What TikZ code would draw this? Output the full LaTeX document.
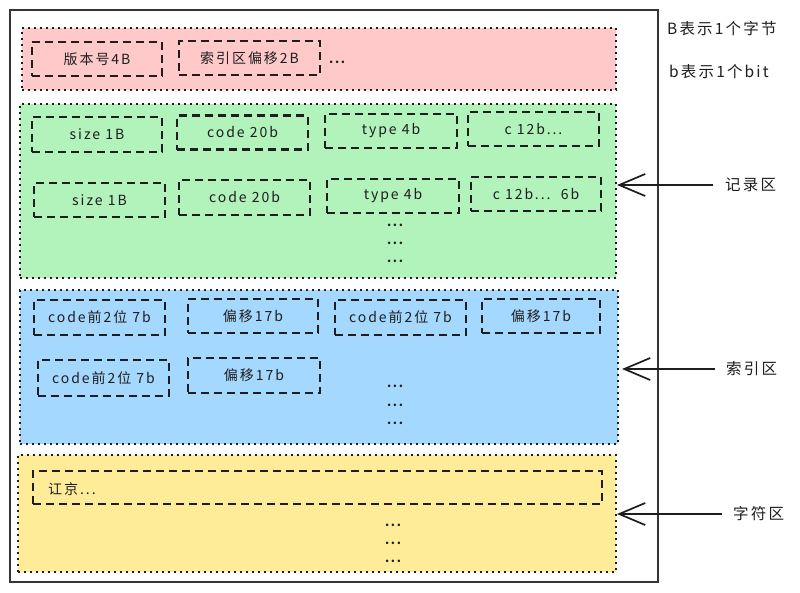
\documentclass[tikz,border=0pt]{standalone}
\usepackage{fontspec}
\usetikzlibrary{arrows.meta}
\newfontfamily\hand[LetterSpace=14]{Noto Sans CJK SC}
\definecolor{pinkc}{HTML}{FFC9C9}
\definecolor{greenc}{HTML}{B2F2BB}
\definecolor{bluec}{HTML}{A5D8FF}
\definecolor{yellowc}{HTML}{FFEC99}
\definecolor{inkc}{HTML}{1E1E1E}
\tikzset{
  region/.style={draw=inkc, line width=2pt, dash pattern=on 2pt off 4pt, rectangle, inner sep=0pt},
  fieldbox/.style={draw=inkc, line width=2.2pt, dash pattern=on 8pt off 5pt, rectangle, inner sep=0pt,
    minimum width=131pt, minimum height=34pt, text=inkc, font=\hand\fontsize{14}{16}\selectfont},
  txt/.style={text=inkc, inner sep=0pt, font=\hand\fontsize{14}{16}\selectfont},
  labtxt/.style={text=inkc, inner sep=0pt, font=\hand\fontsize{15.5}{18}\selectfont},
  dotstxt/.style={text=inkc, inner sep=0pt, font=\hand\bfseries\fontsize{12}{14}\selectfont},
  arr/.style={draw=inkc, line width=1.7pt, -{Straight Barb[length=26pt,width=22pt,line width=1.7pt]}},
}
\begin{document}
\begin{tikzpicture}[x=1pt,y=-1pt]
\useasboundingbox (0,0) rectangle (800,592);
\fill[white] (0,0) rectangle (800,592);
% outer frame
\node[draw=inkc!90, line width=2.2pt, minimum width=648pt, minimum height=572pt, inner sep=0pt] (outer) at (334,296) {};
% regions
\node[region, fill=pinkc, minimum width=594pt, minimum height=62pt] (pink) at (319,59) {};
\node[region, fill=greenc, minimum width=596pt, minimum height=174pt] (green) at (318,191) {};
\node[region, fill=bluec, minimum width=598pt, minimum height=154pt] (blue) at (319,367) {};
\node[region, fill=yellowc, minimum width=598pt, minimum height=117pt] (yellow) at (317,513.5) {};
% pink fields
\node[fieldbox, minimum width=130pt] (p1) at (97,59) {版本号4B};
\node[fieldbox, minimum width=141pt] (p2) at (249.5,58) {索引区偏移2B};
\node[dotstxt, anchor=west] (pdots) at (329,62) {...};
% green fields row 1
\node[fieldbox, minimum width=130pt, minimum height=35pt] (g11) at (97,134.5) {size 1B};
\node[fieldbox] (g12) at (242.5,132.5) {code 20b};
\node[fieldbox, minimum width=132pt] (g13) at (391,131) {type 4b};
\node[fieldbox] (g14) at (533.5,129) {c 12b...};
% green fields row 2
\node[fieldbox] (g21) at (99.5,200) {size 1B};
\node[fieldbox, minimum height=35pt] (g22) at (244.5,197.5) {code 20b};
\node[fieldbox, minimum width=132pt] (g23) at (393,196) {type 4b};
\node[fieldbox, minimum width=130pt] (g24) at (536,194) {c 12b...\ \ 6b};
\node[dotstxt] (gd1) at (395,225) {...};
\node[dotstxt] (gd2) at (395,243) {...};
\node[dotstxt] (gd3) at (395,261) {...};
% blue fields
\node[fieldbox, minimum height=35pt] (b11) at (99.5,317.5) {code前2位 7b};
\node[fieldbox, minimum width=130pt] (b12) at (253,316) {偏移17b};
\node[fieldbox, minimum height=35pt] (b13) at (400.5,317.5) {code前2位 7b};
\node[fieldbox, minimum width=118pt] (b14) at (541,316) {偏移17b};
\node[fieldbox, minimum height=36pt] (b21) at (103.5,378) {code前2位 7b};
\node[fieldbox, minimum width=132pt, minimum height=35pt] (b22) at (254,375.5) {偏移17b};
\node[dotstxt] (bd1) at (395,386) {...};
\node[dotstxt] (bd2) at (395,405) {...};
\node[dotstxt] (bd3) at (395,423) {...};
% yellow
\node[fieldbox, minimum width=569pt, minimum height=33pt] (y1) at (317.5,487.5) {};
\node[txt, anchor=west] (y1t) at (48,489) {讧京...};
\node[dotstxt] (yd1) at (393,525) {...};
\node[dotstxt] (yd2) at (393,543) {...};
\node[dotstxt] (yd3) at (393,561) {...};
% legend
\node[labtxt, anchor=west] (leg1) at (667,29) {B表示1个字节};
\node[labtxt, anchor=west] (leg2) at (669,72) {b表示1个bit};
% side labels
\node[labtxt, anchor=west] (lrec) at (725,185) {记录区};
\node[labtxt, anchor=west] (lidx) at (726,369) {索引区};
\node[labtxt, anchor=west] (lchr) at (733,514) {字符区};
\draw[arr] ([xshift=-12pt]lrec.west) -- (lrec.west -| green.east);
\draw[arr] ([xshift=-11pt]lidx.west) -- ([xshift=3pt]lidx.west -| blue.east);
\draw[arr] ([xshift=-11pt]lchr.west) -- (lchr.west -| yellow.east);
\end{tikzpicture}
\end{document}
